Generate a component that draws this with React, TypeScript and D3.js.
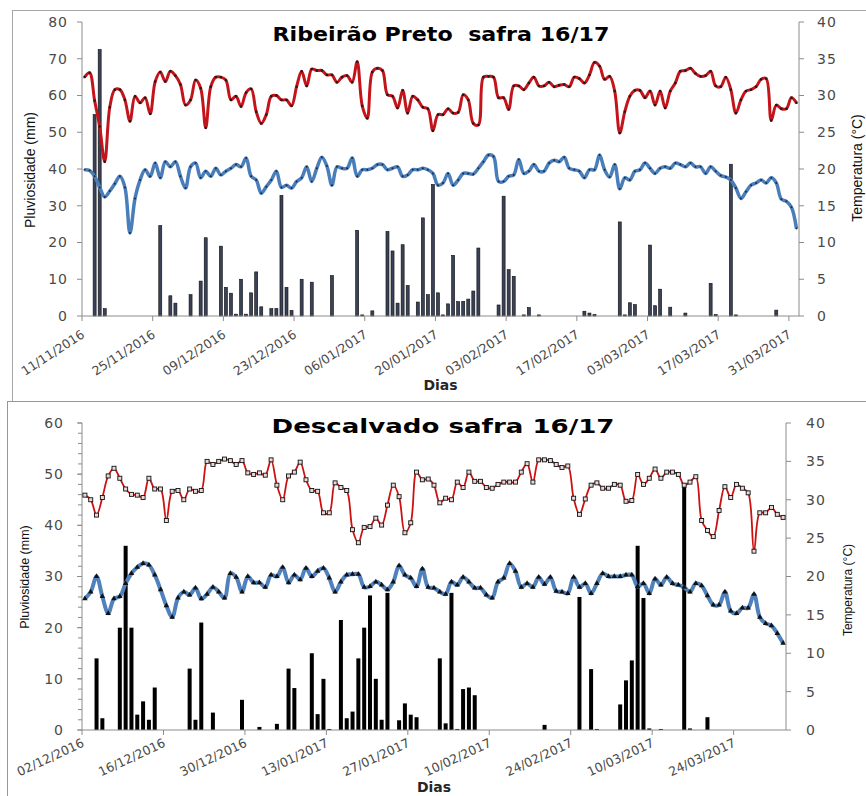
import React from "react";
import * as d3 from "d3";

const parseDate = d3.utcParse("%d/%m/%Y");

// ---- Ribeirão Preto safra 16/17 ----
const rpStart = "11/11/2016";
const rpEnd = "02/04/2017";
const rpTicks = [
  "11/11/2016", "25/11/2016", "09/12/2016", "23/12/2016", "06/01/2017", "20/01/2017",
  "03/02/2017", "17/02/2017", "03/03/2017", "17/03/2017", "31/03/2017",
];
// daily max temperature (°C), one value per day from rpStart
const rpTmax = [
  32.5, 33.1, 29.3, 25.8, 21.0, 28.4, 30.8, 30.8, 29.4, 26.5,
  29.9, 29.0, 29.7, 27.5, 31.9, 33.2, 31.9, 33.3, 32.7, 31.5,
  28.7, 29.4, 32.1, 31.0, 25.6, 31.2, 32.5, 32.5, 32.1, 29.4,
  29.9, 28.5, 30.4, 30.9, 27.8, 26.2, 27.4, 29.9, 30.0, 29.4,
  29.4, 28.6, 31.2, 33.3, 31.3, 33.6, 33.4, 33.4, 32.8, 32.8,
  31.8, 32.5, 32.7, 31.8, 34.6, 28.6, 26.9, 33.2, 33.7, 33.4,
  30.1, 29.9, 28.3, 30.7, 27.6, 29.9, 29.4, 28.4, 28.2, 25.2,
  27.4, 27.4, 28.2, 27.6, 27.7, 30.1, 29.4, 26.2, 26.0, 32.5,
  32.6, 32.5, 29.7, 29.7, 28.1, 31.3, 31.3, 30.8, 31.7, 32.5,
  31.3, 31.3, 31.8, 31.2, 31.4, 31.5, 31.2, 32.5, 32.3, 31.7,
  32.8, 34.5, 34.0, 32.2, 32.6, 30.6, 24.9, 27.8, 29.9, 30.7,
  30.7, 29.7, 30.6, 28.7, 30.6, 28.3, 30.6, 31.7, 33.3, 33.4,
  33.7, 33.0, 32.6, 32.7, 33.3, 31.3, 31.2, 32.5, 30.8, 27.6,
  29.4, 30.6, 30.8, 31.2, 32.2, 32.3, 26.6, 28.7, 28.2, 28.2,
  29.7, 29.0,
];
// daily min temperature (°C)
const rpTmin = [
  19.9, 19.8, 19.0, 17.5, 16.2, 17.0, 18.0, 19.0, 17.5, 11.3,
  16.0, 18.5, 19.9, 19.0, 20.8, 18.8, 21.0, 20.3, 21.0, 19.0,
  17.4, 20.3, 20.8, 18.8, 19.7, 19.0, 20.1, 19.2, 19.7, 20.1,
  20.6, 20.3, 21.5, 19.0, 18.5, 16.7, 17.6, 18.5, 19.7, 17.5,
  17.8, 17.4, 18.3, 18.8, 20.3, 18.3, 20.1, 21.6, 20.4, 17.8,
  20.3, 20.1, 20.1, 21.5, 19.0, 19.9, 19.9, 20.1, 20.6, 20.6,
  19.9, 20.1, 20.3, 19.0, 19.2, 19.9, 19.9, 20.1, 19.9, 19.4,
  17.8, 18.1, 19.4, 17.8, 18.5, 19.4, 19.4, 19.3, 20.1, 21.0,
  21.9, 21.7, 18.3, 18.3, 19.0, 19.2, 21.3, 19.4, 19.7, 20.6,
  19.7, 19.7, 20.8, 21.2, 21.0, 21.6, 20.1, 19.9, 19.7, 18.8,
  19.9, 19.9, 21.9, 19.9, 18.9, 20.6, 17.3, 18.8, 18.5, 19.7,
  19.9, 20.8, 20.1, 19.4, 20.1, 20.3, 20.1, 20.8, 20.6, 20.3,
  20.8, 20.3, 20.3, 19.4, 20.3, 19.7, 19.1, 18.9, 18.5, 17.4,
  16.0, 16.9, 17.8, 18.1, 18.5, 18.1, 18.8, 18.1, 15.9, 15.6,
  14.8, 11.9,
];
// rainy days (offset from rpStart) and rainfall (mm)
const rpRainDay = [
  2, 3, 4, 15, 17, 18, 21, 23, 24, 27, 28, 29, 30, 31, 32, 33, 34, 35, 37, 38,
  39, 40, 41, 43, 45, 49, 54, 55, 57, 60, 61, 62, 63, 64, 66, 67, 68, 69, 70, 71,
  72, 73, 74, 75, 76, 77, 78, 82, 83, 84, 85, 87, 88, 90, 99, 100, 101, 106, 107, 108,
  109, 112, 113, 114, 116, 119, 124, 125, 128, 129, 137,
];
const rpRainMm = [
  54.8, 72.5, 2.0, 24.6, 5.5, 3.5, 5.8, 9.5, 21.3, 19.0, 7.8, 6.2, 0.5, 10.0, 0.5, 6.3, 12.0, 2.5, 2.0, 2.0,
  32.8, 7.8, 1.5, 10.0, 9.2, 11.0, 23.3, 0.3, 1.4, 23.0, 17.7, 3.5, 19.4, 8.3, 3.8, 26.7, 5.8, 35.8, 6.3, 0.3,
  3.3, 16.5, 3.9, 4.0, 4.6, 6.8, 18.5, 3.0, 32.6, 12.6, 10.8, 0.3, 2.3, 0.3, 1.3, 0.8, 0.4, 25.6, 0.3, 3.6,
  3.1, 19.3, 2.8, 7.3, 2.4, 0.8, 8.9, 0.4, 41.3, 0.3, 1.6,
];

// ---- Descalvado safra 16/17 ----
const dsStart = "02/12/2016";
const dsEnd = "02/04/2017";
const dsTicks = [
  "02/12/2016", "16/12/2016", "30/12/2016", "13/01/2017", "27/01/2017",
  "10/02/2017", "24/02/2017", "10/03/2017", "24/03/2017",
];
const dsTmax = [
  30.6, 30.0, 28.0, 30.3, 33.1, 34.1, 32.8, 31.4, 30.7, 30.6,
  30.3, 32.8, 31.4, 31.4, 27.3, 31.1, 31.2, 30.0, 31.4, 31.1,
  31.2, 35.0, 34.6, 35.0, 35.3, 35.1, 34.6, 35.1, 33.5, 33.3,
  33.5, 33.2, 35.2, 31.9, 30.0, 33.1, 33.6, 34.9, 32.6, 31.2,
  31.1, 28.3, 28.3, 32.2, 31.6, 31.2, 26.1, 24.4, 26.4, 26.5,
  27.6, 26.7, 29.3, 31.9, 30.4, 25.7, 27.0, 33.6, 32.6, 32.7,
  31.9, 29.6, 30.2, 30.0, 32.3, 31.6, 33.6, 32.4, 32.4, 31.6,
  31.5, 32.0, 32.3, 32.3, 32.3, 33.6, 34.7, 32.3, 35.2, 35.2,
  35.1, 34.6, 34.2, 34.4, 30.2, 28.1, 30.1, 31.9, 32.2, 31.5,
  31.5, 32.0, 31.9, 29.8, 29.9, 33.3, 32.0, 32.8, 34.0, 32.8,
  33.6, 33.6, 33.3, 31.9, 32.3, 33.0, 27.3, 26.0, 25.2, 28.6,
  31.7, 30.3, 32.0, 31.5, 30.9, 23.3, 28.3, 28.3, 29.0, 28.1,
  27.7,
];
const dsTmin = [
  17.1, 18.0, 20.0, 17.4, 15.2, 17.1, 17.4, 19.1, 20.4, 21.2,
  21.7, 21.5, 20.2, 18.3, 16.2, 14.7, 17.2, 18.0, 17.6, 18.5,
  17.1, 17.7, 18.6, 18.0, 17.2, 20.4, 19.9, 18.0, 20.0, 19.2,
  19.2, 18.6, 20.2, 20.0, 21.2, 19.2, 20.2, 19.6, 21.1, 20.0,
  20.7, 21.1, 19.8, 18.0, 19.3, 20.2, 20.3, 20.3, 18.6, 18.7,
  19.3, 18.9, 18.3, 19.3, 21.4, 20.2, 19.8, 18.7, 21.0, 18.6,
  18.5, 18.0, 17.7, 19.3, 18.9, 19.9, 19.3, 18.5, 18.5, 17.6,
  17.2, 19.3, 19.8, 21.7, 20.7, 18.6, 19.1, 18.6, 19.9, 19.0,
  19.9, 18.1, 18.0, 17.8, 19.9, 18.6, 19.1, 17.8, 19.1, 20.4,
  20.0, 20.0, 20.0, 20.2, 20.2, 18.7, 19.1, 17.8, 19.7, 18.9,
  19.9, 19.1, 18.9, 18.6, 18.0, 19.1, 18.8, 17.5, 16.3, 16.3,
  18.0, 15.5, 15.2, 15.9, 15.9, 17.7, 14.7, 13.9, 13.6, 12.6,
  11.3,
];
const dsRainDay = [
  2, 3, 6, 7, 8, 9, 10, 11, 12, 18, 19, 20, 22, 27, 30, 33, 35, 36, 39, 40,
  41, 42, 44, 45, 46, 47, 48, 49, 50, 51, 52, 54, 55, 56, 57, 61, 62, 63, 64, 65,
  66, 67, 79, 85, 87, 88, 92, 93, 94, 95, 96, 97, 99, 103, 104, 107,
];
const dsRainMm = [
  14.0, 2.3, 20.0, 36.0, 20.0, 3.0, 5.6, 2.0, 8.3, 12.0, 2.0, 21.0, 3.4, 5.9, 0.6, 1.2, 12.0, 8.2, 15.0, 3.1,
  10.0, 0.2, 21.5, 2.3, 3.6, 14.0, 20.0, 26.3, 10.0, 2.0, 26.8, 1.9, 5.2, 3.0, 2.5, 14.0, 1.3, 26.8, 0.2, 8.0,
  8.3, 6.8, 1.0, 26.0, 11.9, 0.2, 5.0, 9.7, 13.6, 36.0, 25.8, 0.3, 0.2, 47.5, 0.3, 2.5,
];

const axisGray = "#8c8c8c";
const labelGray = "#4a4a4a";

type ChartProps = {
  title: string;
  titleX: number;
  titleY: number;
  titleSize: number;
  titleLen: number;
  start: string;
  end: string;
  ticks: string[];
  tmax: number[];
  tmin: number[];
  rainDay: number[];
  rainMm: number[];
  left: number;
  right: number;
  top: number;
  bottom: number;
  leftMax: number;
  minorStep?: number;
  leftLabelX: number;
  rightLabelX: number;
  dateAngle: number;
  dateDy: number;
  diasY: number;
  yTitleL: [number, number, number];
  yTitleR: [number, number, number];
  barWidth: number;
  barFill: string;
  barStroke: string;
  redColor: string;
  redWidth: number;
  blueColor: string;
  blueWidth: number;
  style: "dots" | "symbols";
};

function ComboChart(p: ChartProps) {
  const start = parseDate(p.start)!;
  const x = d3.scaleUtc().domain([start, parseDate(p.end)!]).range([p.left, p.right]);
  const dayX = (i: number) => x(d3.utcHour.offset(d3.utcDay.offset(start, i), 12));
  const yL = d3.scaleLinear().domain([0, p.leftMax]).range([p.bottom, p.top]);
  const yR = d3.scaleLinear().domain([0, 40]).range([p.bottom, p.top]);

  const line = d3
    .line<number>()
    .x((_, i) => dayX(i))
    .y((d) => yR(d))
    .curve(d3.curveCatmullRom.alpha(0.5));

  const leftTicks = d3.range(0, p.leftMax + 1, 10);
  const minorTicks = p.minorStep ? d3.range(0, p.leftMax + 1, p.minorStep) : [];
  const rightTicks = d3.range(0, 41, 5);
  const tri = d3.symbol(d3.symbolTriangle, 13)();

  return (
    <g>
      <text
        x={p.titleX}
        y={p.titleY}
        textAnchor="middle"
        fontFamily="DejaVu Sans, sans-serif"
        fontWeight="bold"
        fontSize={p.titleSize}
        textLength={p.titleLen}
        lengthAdjust="spacingAndGlyphs"
        style={{ whiteSpace: "pre" }}
      >
        {p.title}
      </text>

      {/* bars */}
      {p.rainDay.map((d, i) => (
        <rect
          key={"b" + i}
          x={dayX(d) - p.barWidth / 2}
          y={yL(p.rainMm[i])}
          width={p.barWidth}
          height={yL(0) - yL(p.rainMm[i])}
          fill={p.barFill}
          stroke={p.barStroke}
          strokeWidth={p.barStroke === "none" ? 0 : 0.6}
        />
      ))}

      {/* axes */}
      <line x1={p.left} x2={p.left} y1={p.top} y2={p.bottom} stroke={axisGray} />
      <line x1={p.right} x2={p.right} y1={p.top} y2={p.bottom} stroke={axisGray} />
      <line x1={p.left} x2={p.right} y1={p.bottom} y2={p.bottom} stroke={axisGray} />
      {minorTicks.map((t) => (
        <line key={"m" + t} x1={p.left - 4} x2={p.left} y1={yL(t)} y2={yL(t)} stroke={axisGray} />
      ))}
      {leftTicks.map((t) => (
        <g key={"l" + t}>
          <line x1={p.left - 5} x2={p.left} y1={yL(t)} y2={yL(t)} stroke={axisGray} />
          <text
            x={p.leftLabelX}
            y={yL(t)}
            dy="0.35em"
            textAnchor="end"
            fontFamily="DejaVu Sans, sans-serif"
            fontSize={14}
            letterSpacing={1}
            fill={labelGray}
          >
            {t}
          </text>
        </g>
      ))}
      {rightTicks.map((t) => (
        <g key={"r" + t}>
          <line x1={p.right} x2={p.right + 5} y1={yR(t)} y2={yR(t)} stroke={axisGray} />
          <text
            x={p.rightLabelX}
            y={yR(t)}
            dy="0.35em"
            fontFamily="DejaVu Sans, sans-serif"
            fontSize={14}
            letterSpacing={1}
            fill={labelGray}
          >
            {t}
          </text>
        </g>
      ))}
      {p.ticks.map((s) => {
        const tx = x(parseDate(s)!);
        return (
          <g key={s}>
            <line x1={tx} x2={tx} y1={p.bottom} y2={p.bottom + 5} stroke={axisGray} />
            <text
              transform={`translate(${tx + 1},${p.bottom + p.dateDy}) rotate(${p.dateAngle})`}
              textAnchor="end"
              dy="0.35em"
              fontFamily="DejaVu Sans, sans-serif"
              fontSize={12.5}
              fill={labelGray}
            >
              {s}
            </text>
          </g>
        );
      })}

      {/* temperature lines */}
      <path d={line(p.tmin) ?? ""} fill="none" stroke={p.blueColor} strokeWidth={p.blueWidth} strokeLinejoin="round" />
      <path d={line(p.tmax) ?? ""} fill="none" stroke={p.redColor} strokeWidth={p.redWidth} strokeLinejoin="round" />
      {p.style === "dots"
        ? p.tmax.map((v, i) => (
            <rect key={"rm" + i} x={dayX(i) - 1.1} y={yR(v) - 1.1} width={2.2} height={2.2} fill="#1a1a1a" />
          ))
        : p.tmax.map((v, i) => (
            <rect
              key={"rm" + i}
              x={dayX(i) - 2}
              y={yR(v) - 2}
              width={4}
              height={4}
              fill="#e8d8d8"
              stroke="#111"
              strokeWidth={0.9}
            />
          ))}
      {p.style === "dots"
        ? p.tmin.map((v, i) => <circle key={"bm" + i} cx={dayX(i)} cy={yR(v)} r={1} fill="#1c2a44" />)
        : p.tmin.map((v, i) => (
            <path key={"bm" + i} d={tri ?? ""} transform={`translate(${dayX(i)},${yR(v)})`} fill="#111" />
          ))}

      {/* axis titles */}
      <text
        x={(p.left + p.right) / 2}
        y={p.diasY}
        textAnchor="middle"
        fontFamily="DejaVu Sans, sans-serif"
        fontWeight="bold"
        fontSize={14}
        fill="#262626"
      >
        Dias
      </text>
      <text
        transform={`translate(${p.yTitleL[0]},${p.yTitleL[1]}) rotate(-90)`}
        textAnchor="middle"
        dy="0.35em"
        fontFamily="Liberation Sans, Arial, sans-serif"
        fontSize={p.yTitleL[2]}
        fill="#111"
      >
        Pluviosidade (mm)
      </text>
      <text
        transform={`translate(${p.yTitleR[0]},${p.yTitleR[1]}) rotate(-90)`}
        textAnchor="middle"
        dy="0.35em"
        fontFamily="Liberation Sans, Arial, sans-serif"
        fontSize={p.yTitleR[2]}
        fill="#111"
      >
        Temperatura (°C)
      </text>
    </g>
  );
}

export default function App() {
  return (
    <svg
      width={866}
      height={796}
      style={{ position: "absolute", left: 0, top: 0, background: "#fff" }}
    >
      <rect x={12.5} y={10.5} width={900} height={400} fill="#fff" stroke="#a6a6a6" />
      <ComboChart
        title="Ribeirão Preto  safra 16/17"
        titleX={441}
        titleY={41}
        titleSize={19}
        titleLen={337}
        start={rpStart}
        end={rpEnd}
        ticks={rpTicks}
        tmax={rpTmax}
        tmin={rpTmin}
        rainDay={rpRainDay}
        rainMm={rpRainMm}
        left={82}
        right={799}
        top={22}
        bottom={316}
        leftMax={80}
        leftLabelX={68}
        rightLabelX={817}
        dateAngle={-33}
        dateDy={17}
        diasY={390}
        yTitleL={[30, 170, 14]}
        yTitleR={[857, 168, 14]}
        barWidth={3}
        barFill="#3a4257"
        barStroke="#0d0d0d"
        redColor="#c4141b"
        redWidth={3}
        blueColor="#4a7ebb"
        blueWidth={3.5}
        style="dots"
      />
      <rect x={7.5} y={401.5} width={900} height={420} fill="#fff" stroke="#7f9dbb" />
      <ComboChart
        title="Descalvado safra 16/17"
        titleX={443}
        titleY={433}
        titleSize={20}
        titleLen={343}
        start={dsStart}
        end={dsEnd}
        ticks={dsTicks}
        tmax={dsTmax}
        tmin={dsTmin}
        rainDay={dsRainDay}
        rainMm={dsRainMm}
        left={82}
        right={786}
        top={423}
        bottom={730}
        leftMax={60}
        minorStep={2}
        leftLabelX={64}
        rightLabelX={806}
        dateAngle={-25}
        dateDy={12}
        diasY={792}
        yTitleL={[25, 577, 12.5]}
        yTitleR={[848, 590, 12]}
        barWidth={4}
        barFill="#000"
        barStroke="none"
        redColor="#cc1111"
        redWidth={1.8}
        blueColor="#4f81bd"
        blueWidth={4}
        style="symbols"
      />
    </svg>
  );
}
